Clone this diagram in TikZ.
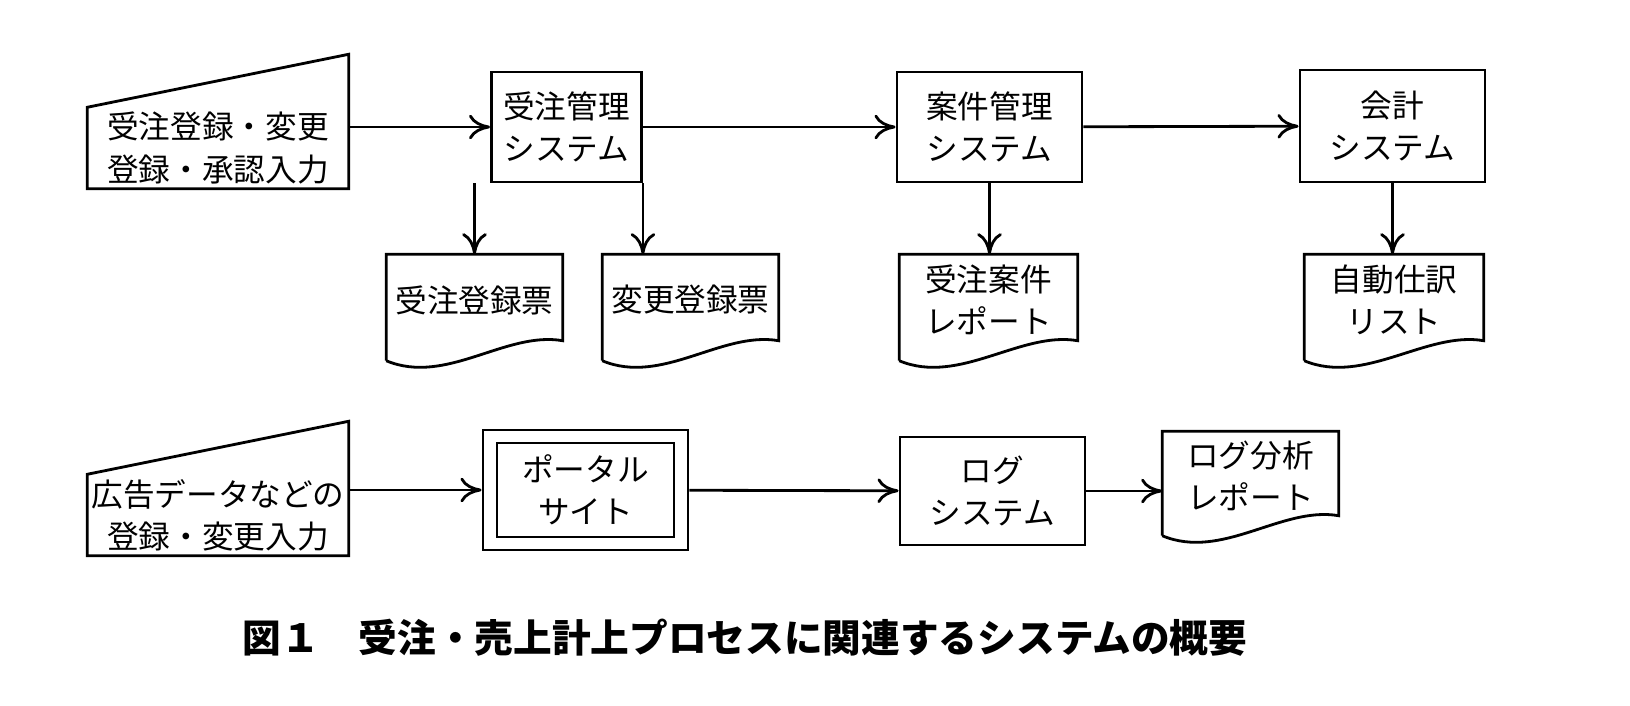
\documentclass[tikz,border=0pt]{standalone}
\usepackage{fontspec}
\setmainfont{Noto Sans CJK JP}
\usetikzlibrary{arrows.meta}
\tikzset{
  sys/.style={draw, thick, align=center, font=\fontsize{9}{12}\selectfont},
  doc/.style={align=center, font=\fontsize{9}{12}\selectfont},
  flow/.style={thick, -{To[length=6pt,width=7pt]}}
}
% document shape with wavy bottom
\newcommand\docshape[1]{%
  \draw[thick] (#1.south west) -- (#1.north west) -- (#1.north east) -- ([yshift=0.2cm]#1.south east)
    .. controls +(-0.57cm,0.1cm) and +(0.6cm,-0.25cm) .. (#1.south west);}
% manual input shape
\newcommand\inshape[1]{%
  \draw[thick] (#1.south west) -- ([yshift=-0.53cm]#1.north west) -- (#1.north east) -- (#1.south east) -- cycle;}
\begin{document}
\begin{tikzpicture}[x=0.01cm,y=-0.01cm]
\useasboundingbox (0,0) rectangle (1630,706);
% first row
\node[doc, minimum width=2.6cm, minimum height=1.33cm] (in1) at (218,121.5) {};
\inshape{in1}
\node[doc] (in1t) at (218,148) {受注登録・変更\\登録・承認入力};
\node[sys, minimum width=1.47cm, minimum height=1.1cm] (ord) at (566.5,127) {受注管理\\システム};
\node[sys, minimum width=1.85cm, minimum height=1.1cm] (prj) at (989.5,127) {案件管理\\システム};
\node[sys, minimum width=1.85cm, minimum height=1.12cm] (acc) at (1392.5,126) {会計\\システム};
\node[doc, minimum width=1.75cm, minimum height=1.05cm] (d1) at (474.5,307.5) {};
\node[doc, minimum width=1.75cm, minimum height=1.05cm] (d2) at (690.5,307.5) {};
\node[doc, minimum width=1.77cm, minimum height=1.05cm] (d3) at (988.5,307.5) {};
\node[doc, minimum width=1.78cm, minimum height=1.05cm] (d4) at (1394,307.5) {};
\foreach \d in {d1,d2,d3,d4} {\docshape{\d}}
\node[doc] (d1t) at (474.5,300) {受注登録票};
\node[doc] (d2t) at (690.5,300) {変更登録票};
\node[doc] (d3t) at (988.5,300) {受注案件\\レポート};
\node[doc] (d4t) at (1394,300) {自動仕訳\\リスト};
\draw[flow] (in1.east |- ord) -- (ord);
\draw[flow] (ord) -- (prj);
\draw[flow] (prj) -- (acc);
\draw[flow] (d1.north |- ord.south) -- (d1.north);
\draw[flow] (ord.south east) -- (ord.south east |- d2.north);
\draw[flow] (prj.south) -- (prj.south |- d3.north);
\draw[flow] (acc.south) -- (acc.south |- d4.north);
% second row
\node[doc, minimum width=2.6cm, minimum height=1.33cm] (in2) at (218,488.5) {};
\inshape{in2}
\node[doc] (in2t) at (218,515) {広告データなどの\\登録・変更入力};
\node[draw, thick, minimum width=2.05cm, minimum height=1.2cm] (ptl) at (585.5,490) {};
\node[sys, minimum width=1.77cm, minimum height=0.9cm] (ptlin) at (585.5,490) {ポータル\\サイト};
\node[sys, minimum width=1.85cm, minimum height=1.08cm] (log) at (992.5,491) {ログ\\システム};
\node[doc, minimum width=1.75cm, minimum height=1.03cm] (d5) at (1250.5,483.5) {};
\docshape{d5}
\node[doc] (d5t) at (1250.5,476) {ログ分析\\レポート};
\draw[flow] (in2.east |- ptl) -- (ptl);
\draw[flow] (ptl) -- (log);
\draw[flow] (log) -- (log -| d5.west);
% caption
\node[font=\fontsize{11}{13}\selectfont\bfseries] (cap) at (745,638) {図１\quad 受注・売上計上プロセスに関連するシステムの概要};
\end{tikzpicture}
\end{document}
